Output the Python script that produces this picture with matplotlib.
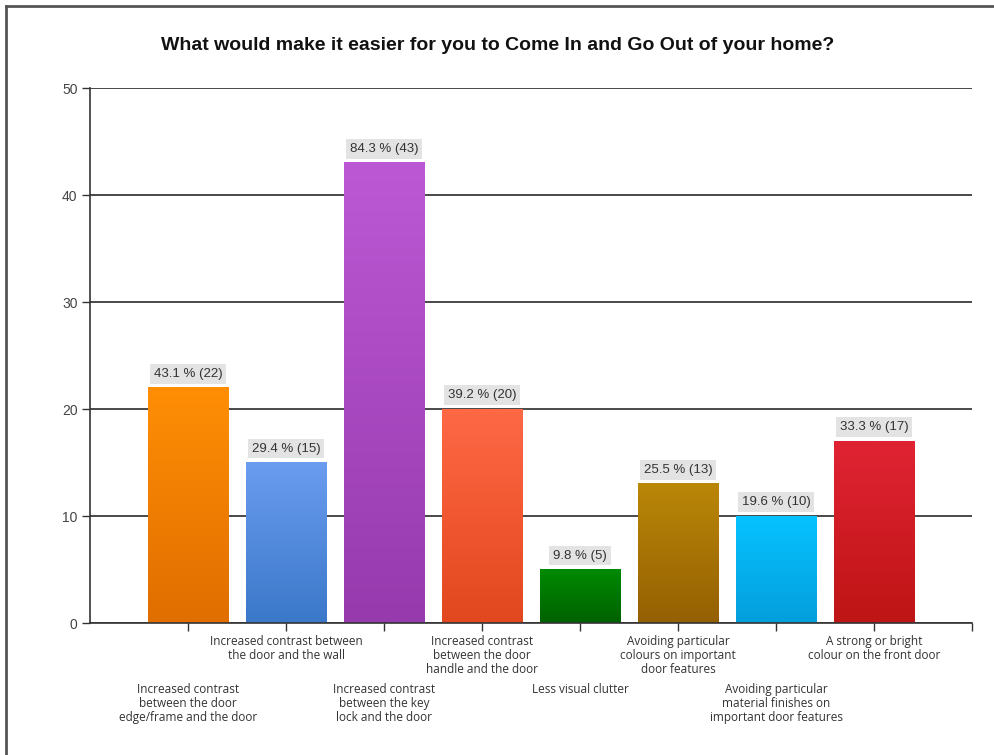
import numpy as np
import matplotlib
matplotlib.use("Agg")
import matplotlib.pyplot as plt
from matplotlib.colors import to_rgb
from matplotlib.lines import Line2D

# survey answers
categories = [
    "Increased contrast\nbetween the door\nedge/frame and the door",
    "Increased contrast between\nthe door and the wall",
    "Increased contrast\nbetween the key\nlock and the door",
    "Increased contrast\nbetween the door\nhandle and the door",
    "Less visual clutter",
    "Avoiding particular\ncolours on important\ndoor features",
    "Avoiding particular\nmaterial finishes on\nimportant door features",
    "A strong or bright\ncolour on the front door",
]
counts = [22, 15, 43, 20, 5, 13, 10, 17]
percents = [43.1, 29.4, 84.3, 39.2, 9.8, 25.5, 19.6, 33.3]
top_colors = ["#FF8E05", "#6A9CEF", "#BC58D4", "#FF6845", "#008A00", "#BA8708", "#06C2FF", "#E02333"]
bottom_colors = ["#E06E00", "#3B78C9", "#963AAE", "#E2481F", "#006200", "#946003", "#049FDC", "#BE1515"]

plt.rcParams["font.family"] = ["Liberation Sans", "DejaVu Sans"]

fig = plt.figure(figsize=(9.95, 7.55), dpi=100)
ax = fig.add_axes([0.0905, 0.1748, 0.8864, 0.7086])

x = np.arange(1, len(counts) + 1)
width = 0.82

for i in range(len(counts)):
    c0 = np.array(to_rgb(bottom_colors[i]))
    c1 = np.array(to_rgb(top_colors[i]))
    t = np.linspace(0, 1, 64)[:, None, None]
    grad = c0 * (1 - t) + c1 * t
    ax.imshow(grad, extent=(x[i] - width / 2, x[i] + width / 2, 0, counts[i]),
              origin="lower", aspect="auto", interpolation="bilinear", zorder=2)
    ax.annotate(f"{percents[i]} % ({counts[i]})", xy=(x[i], counts[i]),
                xytext=(0, 8), textcoords="offset pixels", ha="center", va="bottom",
                fontsize=9.5, color="#333333", zorder=3,
                bbox=dict(boxstyle="square,pad=0.3", fc="#E3E3E3", ec="none"))
    # staggered category labels
    off = -12 if i % 2 == 1 else -60
    ax.annotate(categories[i], xy=(x[i], 0), xycoords=("data", "axes fraction"),
                xytext=(0, off), textcoords="offset pixels", ha="center", va="top",
                fontsize=8.5, family=["Open Sans", "DejaVu Sans"], color="#333333",
                linespacing=1.12, annotation_clip=False)

ax.set_xlim(0, 9)
ax.set_ylim(0, 50)
ax.set_yticks([0, 10, 20, 30, 40, 50])
ax.set_xticks(list(x) + [9])
ax.set_xticklabels([])
ax.grid(axis="y", color="#2A2A2A", linewidth=1.2)
ax.set_axisbelow(True)
ax.tick_params(axis="y", length=6, width=1, color="#333333", labelsize=10, labelcolor="#444444", pad=3)
ax.tick_params(axis="x", length=6, width=1, color="#333333")
for s in ["top", "right"]:
    ax.spines[s].set_visible(False)
for s in ["left", "bottom"]:
    ax.spines[s].set_color("#333333")
    ax.spines[s].set_linewidth(1.2)

fig.text(0.5, 0.94, "What would make it easier for you to Come In and Go Out of your home?",
         ha="center", va="center", fontsize=14, fontweight="bold", color="#111111")

# outer frame (left and top only)
fig.add_artist(Line2D([0.0065, 0.0065], [0, 0.992], transform=fig.transFigure, color="#555555", lw=2))
fig.add_artist(Line2D([0.0065, 1], [0.992, 0.992], transform=fig.transFigure, color="#555555", lw=2))

fig.savefig("out.png", dpi=100)
